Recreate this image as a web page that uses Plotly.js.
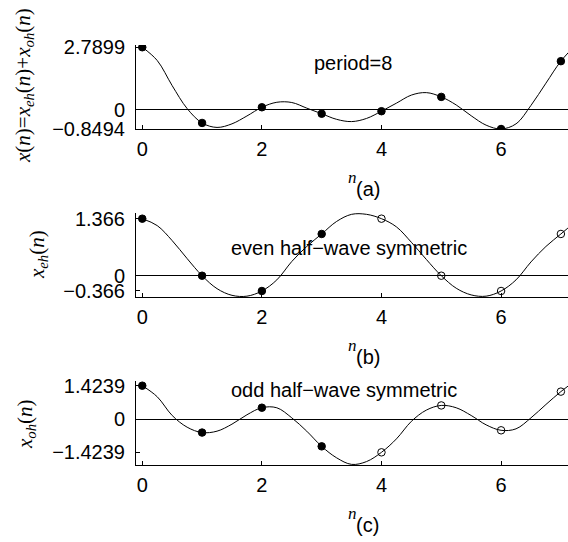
<!DOCTYPE html>
<html><head><meta charset="utf-8">
<script src="https://cdn.plot.ly/plotly-3.0.1.min.js"></script>
<style>html,body{margin:0;padding:0;background:#fff}</style>
</head><body><div id="chart" style="width:568px;height:542px"></div>
<script>
// sample index
const n = [0,1,2,3,4,5,6,7];
// sampled sequences
const xa  = [2.7899, -0.58, 0.1174, -0.17, -0.0579, 0.58, -0.8494, 2.17];
const xeh = [1.366, 0, -0.366, 1, 1.366, 0, -0.366, 1];
const xoh = [1.4239, -0.58, 0.4834, -1.17, -1.4239, 0.58, -0.4834, 1.17];
// continuous curves
const t  = [0,0.25,0.5,0.75,1,1.25,1.5,1.75,2,2.25,2.5,2.75,3,3.25,3.5,3.75,4,4.25,4.5,4.75,5,5.25,5.5,5.75,6,6.25,6.5,6.75,7,7.25];
const ca = [2.7899,2.2,1.08,0.06,-0.58,-0.78,-0.62,-0.27,0.1174,0.34,0.33,0.08,-0.17,-0.42,-0.52,-0.38,-0.0579,0.3,0.66,0.77,0.58,0.22,-0.26,-0.68,-0.8494,-0.62,0.2,1.19,2.17,2.9];
const cb = [1.366,1.2,0.84,0.41,0,-0.31,-0.47,-0.49,-0.366,-0.1,0.34,0.7,1.0,1.3,1.47,1.47,1.366,1.17,0.8,0.39,0,-0.3,-0.46,-0.49,-0.366,-0.1,0.33,0.7,1.0,1.3];
const cc = [1.4239,0.95,0.15,-0.35,-0.58,-0.52,-0.22,0.18,0.4834,0.48,0.05,-0.52,-1.17,-1.66,-1.94,-1.82,-1.4239,-0.85,-0.1,0.38,0.58,0.48,0.15,-0.25,-0.4834,-0.42,0.05,0.62,1.17,1.65];
// tick labels
const ticksA = [-0.8494, 0, 2.7899], tickTextA = ['\u22120.8494','0','2.7899'];
const ticksB = [-0.366, 0, 1.366],   tickTextB = ['\u22120.366','0','1.366'];
const ticksC = [-1.4239, 0, 1.4239], tickTextC = ['\u22121.4239','0','1.4239'];
const xTicks = [0,2,4,6];

const symFilledOpen = n.map(k => k < 4 ? 'circle' : 'circle-open');
const curveLine = {color:'#000', width:1, shape:'spline', smoothing:1};
const mk = (sym) => ({color:'#000', size:7.5, symbol:sym, line:{color:'#000', width:1}});

const data = [
  {x:t, y:ca, mode:'lines', line:curveLine, xaxis:'x', yaxis:'y', hoverinfo:'skip'},
  {x:n, y:xa, mode:'markers', marker:mk('circle'), xaxis:'x', yaxis:'y'},
  {x:t, y:cb, mode:'lines', line:curveLine, xaxis:'x2', yaxis:'y2', hoverinfo:'skip'},
  {x:n, y:xeh, mode:'markers', marker:mk(symFilledOpen), xaxis:'x2', yaxis:'y2'},
  {x:t, y:cc, mode:'lines', line:curveLine, xaxis:'x3', yaxis:'y3', hoverinfo:'skip'},
  {x:n, y:xoh, mode:'markers', marker:mk(symFilledOpen), xaxis:'x3', yaxis:'y3'}
];

const FS = 20;
const sansFont = {family:"'Liberation Sans', Arial, sans-serif", size:FS, color:'#000'};
const serifFont = {family:"'Liberation Serif', 'Times New Roman', serif", size:21, color:'#000'};

function xax(anchor){
  return {anchor:anchor, domain:[0,1], range:[-0.105,7.119], tickvals:xTicks, ticktext:xTicks.map(String),
    ticks:'inside', ticklen:4, tickcolor:'#000', showline:true, linecolor:'#000', linewidth:1,
    showgrid:false, zeroline:false, tickfont:sansFont, ticklabelstandoff:2, fixedrange:true};
}
function yax(anchor, dom, rng, tv, tt){
  return {anchor:anchor, domain:dom, range:rng, tickvals:tv, ticktext:tt,
    ticks:'inside', ticklen:4, tickcolor:'#000', showline:true, linecolor:'#000', linewidth:1,
    showgrid:false, zeroline:true, zerolinecolor:'#000', zerolinewidth:1, tickfont:sansFont,
    ticklabelstandoff:6, fixedrange:true};
}

// pixel -> paper helper (plot area 136..568 x 45..465)
const P = (px, py) => ({x:(px-136)/432, y:(465-py)/420});

function ann(px, py, text, font, extra){
  const p = P(px, py);
  return Object.assign({xref:'paper', yref:'paper', x:p.x, y:p.y, xanchor:'center', yanchor:'middle',
    text:text, showarrow:false, font:font}, extra||{});
}

const nFont = {family:"'Liberation Serif', 'Times New Roman', serif", size:17, color:'#000'};
const annotations = [
  ann(352.7, 63, 'period=8', sansFont),
  ann(348.5, 248, 'even half\u2212wave symmetric', sansFont),
  ann(343.8, 390, 'odd half\u2212wave symmetric', sansFont),
  ann(24, 86, '<i>x</i>(<i>n</i>)=<i>x</i><sub><i>eh</i></sub>(<i>n</i>)+<i>x</i><sub><i>oh</i></sub>(<i>n</i>)', serifFont, {textangle:-90}),
  ann(38, 255, '<i>x</i><sub><i>eh</i></sub>(<i>n</i>)', serifFont, {textangle:-90}),
  ann(26, 424, '<i>x</i><sub><i>oh</i></sub>(<i>n</i>)', serifFont, {textangle:-90}),
  ann(352.5, 177, '<i>n</i>', nFont),
  ann(367.5, 189, '(a)', sansFont),
  ann(352.5, 345, '<i>n</i>', nFont),
  ann(367.5, 357, '(b)', sansFont),
  ann(352.5, 513, '<i>n</i>', nFont),
  ann(367.5, 525, '(c)', sansFont)
];

const layout = {
  width:568, height:542, margin:{l:136, r:0, t:45, b:77},
  paper_bgcolor:'#fff', plot_bgcolor:'#fff', showlegend:false,
  xaxis:xax('y'), xaxis2:xax('y2'), xaxis3:xax('y3'),
  yaxis:yax('x', [0.8,1], [-0.85,2.89], ticksA, tickTextA),
  yaxis2:yax('x2', [0.4,0.6], [-0.51,1.502], ticksB, tickTextB),
  yaxis3:yax('x3', [0,0.2], [-1.966,1.624], ticksC, tickTextC),
  annotations:annotations
};

Plotly.newPlot('chart', data, layout, {staticPlot:true, displayModeBar:false});
</script>
</body></html>
